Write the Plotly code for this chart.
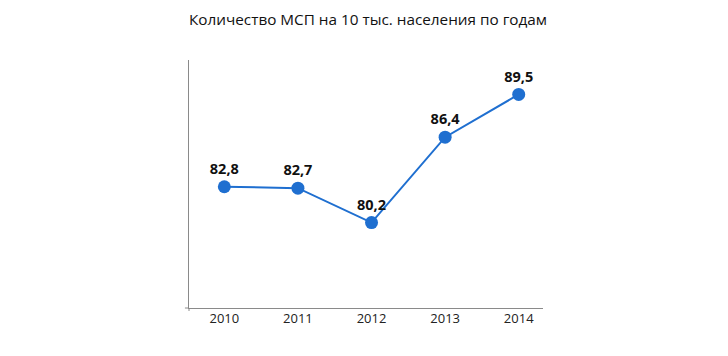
import plotly.graph_objects as go

years = ["2010", "2011", "2012", "2013", "2014"]
values = [82.8, 82.7, 80.2, 86.4, 89.5]
labels = ["82,8", "82,7", "80,2", "86,4", "89,5"]
title = "Количество МСП на 10 тыс. населения по годам"

xpos = list(range(len(years)))

fig = go.Figure()
fig.add_trace(go.Scatter(
    x=xpos, y=values, mode="lines+markers+text",
    text=labels, textposition="top center",
    textfont=dict(family="Open Sans", size=14.5, color="#111111", weight="bold"),
    line=dict(color="#1F6FD0", width=2),
    marker=dict(color="#1F6FD0", size=13),
    hoverinfo="skip", cliponaxis=False,
))

axis_col = "#8a8a8a"
fig.update_layout(
    width=728, height=356,
    margin=dict(l=181, r=193, t=52, b=56),
    paper_bgcolor="white", plot_bgcolor="white",
    showlegend=False,
    title=dict(text=title, x=0.4945, xanchor="center", y=0.966, yanchor="middle",
               font=dict(family="Open Sans", size=15.3, color="#111111")),
    xaxis=dict(range=[-0.48, 4.33], tickvals=xpos, ticktext=years,
               showgrid=False, zeroline=False, showline=True, linecolor=axis_col,
               linewidth=1, ticks="", ticklen=0, ticklabelstandoff=-2,
               tickfont=dict(family="Open Sans", size=13, color="#222222")),
    yaxis=dict(range=[74, 92], showgrid=False, zeroline=False, showline=True,
               linecolor=axis_col, linewidth=1, showticklabels=False, ticks=""),
    shapes=[
        dict(type="line", xref="paper", yref="paper", x0=-0.0115, x1=0, y0=0, y1=0,
             line=dict(color=axis_col, width=1)),
        dict(type="line", xref="paper", yref="paper", x0=0, x1=0, y0=0, y1=-0.012,
             line=dict(color=axis_col, width=1)),
    ],
)

fig.write_html("out.html")
